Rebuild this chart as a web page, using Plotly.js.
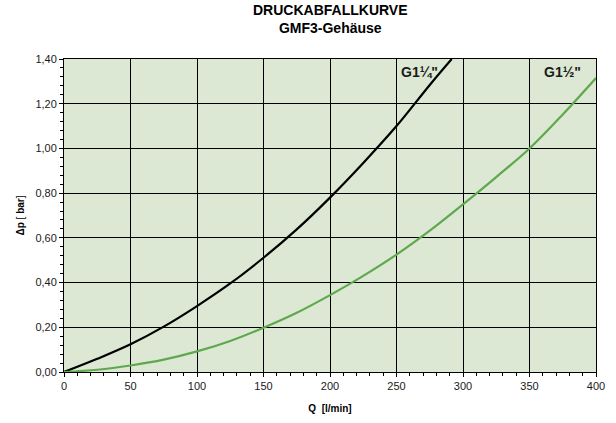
<!DOCTYPE html>
<html>
<head>
<meta charset="utf-8">
<script src="https://cdn.plot.ly/plotly-3.0.1.min.js"></script>
<style>html,body{margin:0;padding:0;background:#fff;}#chart{width:616px;height:423px;}</style>
</head>
<body>
<div id="chart"></div>
<script>
// Data
const flowG114 = [0, 25, 50, 75, 100, 125, 150, 175, 200, 225, 250, 275, 291.5];
const dpG114   = [0, 0.059, 0.124, 0.203, 0.295, 0.396, 0.511, 0.638, 0.78, 0.935, 1.10, 1.284, 1.40];
const flowG112 = [0, 25, 50, 75, 100, 125, 150, 175, 200, 225, 250, 275, 300, 325, 350, 375, 400];
const dpG112   = [0, 0.01, 0.029, 0.055, 0.092, 0.139, 0.198, 0.265, 0.344, 0.43, 0.525, 0.632, 0.75, 0.872, 1.00, 1.152, 1.315];
const xTicks = [0, 50, 100, 150, 200, 250, 300, 350, 400];
const yTicks = [0, 0.2, 0.4, 0.6, 0.8, 1.0, 1.2, 1.4];
const titleLines = ['DRUCKABFALLKURVE', 'GMF3-Gehäuse'];
const seriesLabels = ['G1¼"', 'G1½"'];
const labelPosQ = [267, 375];
const labelPosDp = [1.343, 1.343];

const font = 'Liberation Sans, Arial, Helvetica, sans-serif';

const traces = [
  {x: flowG114, y: dpG114, mode: 'lines', line: {color: '#000000', width: 2.2, shape: 'spline', smoothing: 1}, hoverinfo: 'skip', name: seriesLabels[0]},
  {x: flowG112, y: dpG112, mode: 'lines', line: {color: '#5fa84e', width: 2.2, shape: 'spline', smoothing: 1}, hoverinfo: 'skip', name: seriesLabels[1]}
];

const titleAnn = [{
  x: 0.5, xref: 'paper', y: 1.128, yref: 'paper', yanchor: 'middle', xanchor: 'center',
  text: titleLines.map(t => '<b>' + t + '</b>').join('<br>'), showarrow: false,
  font: {family: font, size: 14, color: '#000'}
}];

const layout = {
  width: 616, height: 423,
  margin: {l: 64, r: 20, t: 59, b: 51},
  paper_bgcolor: '#ffffff',
  plot_bgcolor: '#dce8d3',
  showlegend: false,
  font: {family: font, color: '#1a1a1a', size: 11},
  xaxis: {
    range: [0, 400], tickvals: xTicks, ticktext: xTicks.map(String),
    showgrid: true, gridcolor: '#000', gridwidth: 1,
    showline: true, linecolor: '#000', linewidth: 1, mirror: true,
    ticks: 'outside', ticklen: 4, tickcolor: '#000', tickwidth: 1,
    minor: {dtick: 10, tick0: 0, ticks: 'outside', ticklen: 3, tickcolor: '#000', showgrid: false},
    zeroline: false, fixedrange: true,
    tickfont: {size: 11, family: font, color: '#1a1a1a'},
    title: {text: '<b>Q  [l/min]</b>', font: {size: 10, family: font, color: '#000'}, standoff: 13}
  },
  yaxis: {
    range: [0, 1.4], tickvals: yTicks, ticktext: yTicks.map(v => v.toFixed(2).replace('.', ',')),
    showgrid: true, gridcolor: '#000', gridwidth: 1,
    showline: true, linecolor: '#000', linewidth: 1, mirror: true,
    ticks: 'outside', ticklen: 4, tickcolor: '#000', tickwidth: 1,
    minor: {dtick: 0.04, tick0: 0, ticks: 'outside', ticklen: 3, tickcolor: '#000', showgrid: false},
    zeroline: false, fixedrange: true,
    tickfont: {size: 11, family: font, color: '#1a1a1a'},
    title: {text: '<b>Δp</b> [ <b>bar</b>]', font: {size: 10, family: font, color: '#000'}, standoff: 8}
  },
  annotations: titleAnn.concat(seriesLabels.map((t, i) => ({
    x: labelPosQ[i], y: labelPosDp[i], xref: 'x', yref: 'y',
    text: '<b>' + t + '</b>', showarrow: false,
    font: {family: font, size: 14, color: '#1a1a1a'}
  })))
};

Plotly.newPlot('chart', traces, layout, {displayModeBar: false, staticPlot: true});
</script>
</body>
</html>
